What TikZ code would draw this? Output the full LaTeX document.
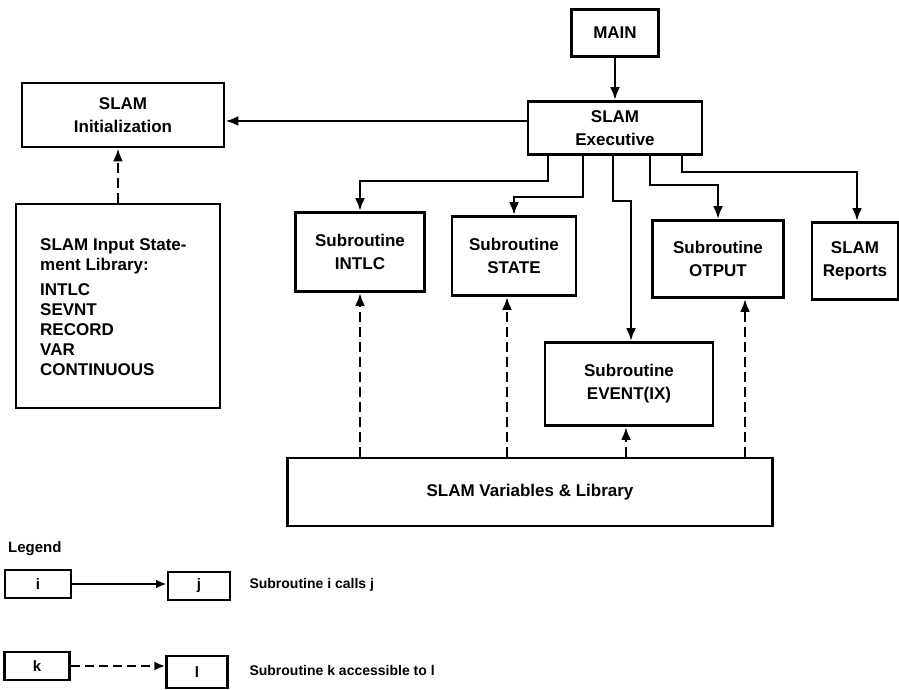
\documentclass[tikz,border=0pt]{standalone}
\usepackage{fontspec}
\setmainfont{Liberation Sans}
\usetikzlibrary{arrows.meta}
\begin{document}
\begin{tikzpicture}[x=1pt,y=-1pt,
  box/.style={draw,line width=2.8pt,rectangle,inner sep=0pt,align=center,
    font=\fontsize{17}{23}\selectfont\bfseries},
  lbox/.style={draw,line width=2.5pt,rectangle,inner sep=0pt,
    font=\fontsize{15}{18}\selectfont\bfseries},
  call/.style={line width=2.8pt,-{Latex[length=13pt,width=10pt]}},
  acc/.style={line width=2.8pt,dash pattern=on 10pt off 5pt,-{Latex[length=13pt,width=10pt]}},
  ltxt/.style={anchor=west,font=\fontsize{14}{17}\selectfont\bfseries},
]
\useasboundingbox (0,0) rectangle (899,690);
% main boxes
\node[box,minimum width=87pt,minimum height=47pt] (main) at (615,33) {MAIN};
\node[box,minimum width=174pt,minimum height=53pt] (exec) at (615,128) {SLAM\\Executive};
\node[box,minimum width=202pt,minimum height=64pt] (init) at (123,115) {SLAM\\Initialization};
\node[box,minimum width=204pt,minimum height=204pt] (lib) at (118,306) {};
\node[anchor=north west,inner sep=0pt,align=left,font=\fontsize{17}{20}\selectfont\bfseries] (libtxt) at (40,238)
  {SLAM Input State-\\ment Library:\\[5pt]INTLC\\SEVNT\\RECORD\\VAR\\CONTINUOUS};
\node[box,minimum width=129pt,minimum height=79pt] (intlc) at (360,252) {Subroutine\\INTLC};
\node[box,minimum width=124pt,minimum height=79pt] (state) at (514,256) {Subroutine\\STATE};
\node[box,minimum width=131pt,minimum height=77pt] (otput) at (718,259) {Subroutine\\OTPUT};
\node[box,minimum width=86pt,minimum height=77pt] (reports) at (855,261) {SLAM\\Reports};
\node[box,minimum width=168pt,minimum height=83pt] (event) at (629,384) {Subroutine\\EVENT(IX)};
\node[box,minimum width=485pt,minimum height=68pt] (vars) at (530,492) {SLAM Variables \& Library};

% calls
\draw[call] (main) -- (exec);
\draw[call] (exec.west |- 0,121) -- (init.east |- 0,121);
\draw[call] (exec.south -| 548,0) |- (360,181) -- (intlc.north);
\draw[call] (exec.south -| 583,0) |- (514,197) -- (state.north);
\draw[call] (exec.south -| 613,0) |- (631,201) -- (event.north -| 631,0);
\draw[call] (exec.south -| 650,0) |- (718,185) -- (otput.north);
\draw[call] (exec.south -| 682,0) |- (857,172) -- (reports.north -| 857,0);

% accessibility
\draw[acc] (lib.north -| 118,0) -- (init.south -| 118,0);
\draw[acc] (vars.north -| 360,0) -- (intlc.south);
\draw[acc] (vars.north -| 507,0) -- (state.south -| 507,0);
\draw[acc] (vars.north -| 626,0) -- (event.south -| 626,0);
\draw[acc] (vars.north -| 745,0) -- (otput.south -| 745,0);

% legend
\node[anchor=west,inner sep=0pt,font=\fontsize{15}{17}\selectfont\bfseries] (legend) at (8,549) {Legend};
\node[lbox,minimum width=66pt,minimum height=28pt] (li) at (38,584) {i};
\node[lbox,minimum width=62pt,minimum height=28pt] (lj) at (199,586) {j};
\node[lbox,minimum width=65pt,minimum height=28pt] (lk) at (37,666) {k};
\node[lbox,minimum width=61pt,minimum height=32pt] (ll) at (197,672) {l};
\draw[line width=2.2pt,-{Latex[length=11pt,width=9pt]}] (li.east) -- (lj.west |- li.east);
\draw[line width=2.2pt,dash pattern=on 9pt off 5pt,-{Latex[length=11pt,width=9pt]}] (lk.east) -- (ll.west |- lk.east);
\node[ltxt] (t1) at (246,585) {Subroutine i calls j};
\node[ltxt] (t2) at (246,670) {Subroutine k accessible to l};
\end{tikzpicture}
\end{document}
